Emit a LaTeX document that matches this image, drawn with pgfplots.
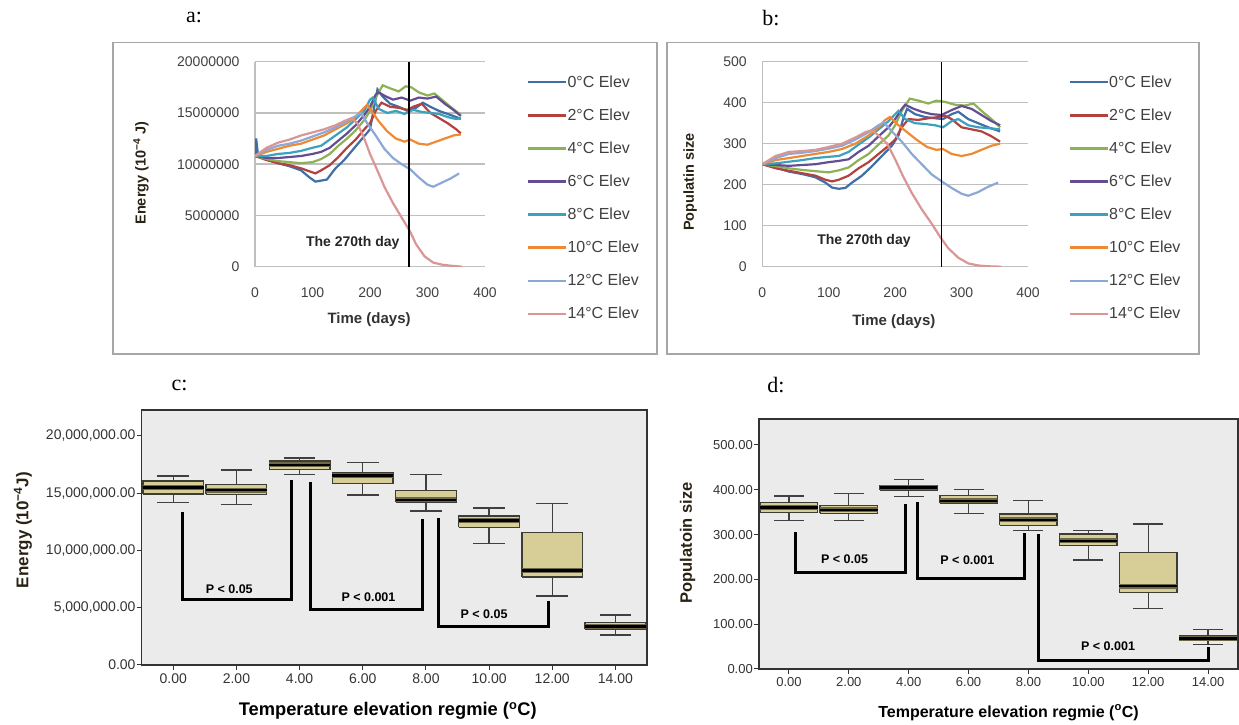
\documentclass[border=0pt]{standalone}
\usepackage{fontspec}
\setmainfont{Liberation Sans}
\newfontfamily\serifa{Liberation Serif}
\usepackage{pgfplots}
\pgfplotsset{compat=1.18}
\definecolor{cA}{HTML}{3F6FA6}
\definecolor{cB}{HTML}{B3413E}
\definecolor{cC}{HTML}{8DB255}
\definecolor{cD}{HTML}{654D94}
\definecolor{cE}{HTML}{3AA2BE}
\definecolor{cF}{HTML}{EE8A33}
\definecolor{cG}{HTML}{8CA8D6}
\definecolor{cH}{HTML}{D99694}
\definecolor{gridg}{HTML}{BFBFBF}
\definecolor{frameg}{HTML}{A6A6A6}
\definecolor{bggray}{HTML}{EBEBEB}
\definecolor{boxfill}{HTML}{D6CE96}
\definecolor{boxedge}{HTML}{3D3D33}
\definecolor{medol}{HTML}{6E6846}
\definecolor{labdark}{HTML}{2A2214}
\tikzset{plab/.style={font=\bfseries\fontsize{12.5}{12.5}\selectfont}}
% box-and-whisker from plain numbers: x, lower whisker, Q1, median, Q3, upper whisker
\newcommand\bxp[6]{%
  \pgfmathsetmacro\bL{#1-0.48}\pgfmathsetmacro\bR{#1+0.48}%
  \pgfmathsetmacro\cL{#1-0.25}\pgfmathsetmacro\cR{#1+0.25}%
  \edef\bxtmp{%
   \noexpand\addplot[wh] coordinates {(#1,#2)(#1,#3)};
   \noexpand\addplot[wh] coordinates {(#1,#5)(#1,#6)};
   \noexpand\addplot[wh] coordinates {(\cL,#2)(\cR,#2)};
   \noexpand\addplot[wh] coordinates {(\cL,#6)(\cR,#6)};
   \noexpand\addplot[bx] coordinates {(\bL,#3)(\bR,#3)(\bR,#5)(\bL,#5)(\bL,#3)};
   \noexpand\addplot[medo] coordinates {(\bL,#4)(\bR,#4)};
   \noexpand\addplot[medb] coordinates {(\bL,#4)(\bR,#4)};}%
  \bxtmp}
\pgfplotsset{
  /pgf/number format/assume math mode=true,
  lineaxis/.style={
    anchor=south west, scale only axis, height=205pt,
    xmin=0, xmax=400, ymin=0,
    xtick={0,100,200,300,400},
    scaled y ticks=false,
    axis lines*=left, axis line style={draw=gridg, line width=1.3pt},
    ymajorgrids, grid style={draw=gridg, line width=1.5pt},
    major tick length=0pt,
    tick label style={font=\fontsize{14}{14}\selectfont, text=black!75},
    xticklabel style={yshift=-17pt},
    yticklabel style={xshift=-12pt},
    x label style={font=\bfseries\fontsize{15}{15}\selectfont, text=black!80, anchor=center},
    y label style={font=\bfseries\fontsize{14.5}{14.5}\selectfont, text=labdark, anchor=center},
    legend cell align=left,
    legend style={draw=none, fill=none, anchor=west, inner sep=0pt, outer sep=0pt,
      font=\fontsize{16}{16}\selectfont, row sep=20pt, column sep=0pt,
      nodes={inner sep=0pt, text=black!75}},
    legend image code/.code={\draw[##1, line width=2.5pt] (0pt,0pt) -- (38pt,0pt);},
    every axis plot/.append style={line width=2.2pt},
  },
  boxaxis/.style={
    anchor=south west, scale only axis,
    xmin=-0.5, xmax=7.5, ymin=0,
    scaled y ticks=false,
    axis background/.style={fill=bggray},
    axis line style={draw=black!80, line width=1.5pt},
    xtick={0,1,2,3,4,5,6,7},
    xticklabels={0.00,2.00,4.00,6.00,8.00,10.00,12.00,14.00},
    tick align=outside, xtick pos=bottom, ytick pos=left,
    major tick length=5pt, tick style={draw=black!80, line width=1pt},
    yticklabel style={inner sep=1pt},
    x label style={font=\bfseries\fontsize{18.3}{18.3}\selectfont, anchor=center},
    y label style={font=\bfseries\fontsize{17}{17}\selectfont, text=labdark, anchor=center},
    wh/.style={draw=black!75, line width=1.3pt, mark=none},
    bx/.style={draw=boxedge, fill=boxfill, line width=1.4pt, mark=none},
    medo/.style={draw=medol, line width=5pt, mark=none},
    medb/.style={draw=black, line width=2.6pt, mark=none},
    br/.style={draw=black, line width=3pt, sharp plot, mark=none},
  },
}
\begin{document}
\begin{tikzpicture}[x=1pt,y=1pt]
\path[use as bounding box] (0,0) rectangle (1239,725);
\draw[draw=frameg, line width=1.3pt] (113,682.3) rectangle (657,371);
\draw[draw=frameg, line width=1.3pt] (667,682.3) rectangle (1199,371);
\node[font=\serifa\fontsize{22}{22}\selectfont] at (194,707) {a:};
\node[font=\serifa\fontsize{22}{22}\selectfont] at (771,707) {b:};
\node[font=\serifa\fontsize{22}{22}\selectfont] at (179.5,340) {c:};
\node[font=\serifa\fontsize{22}{22}\selectfont] at (776,340) {d:};

% ---------------- panel a ----------------
\begin{axis}[lineaxis, at={(255pt,458.3pt)}, width=230pt, ymax=20000000,
  ytick={0,5000000,10000000,15000000,20000000},
  yticklabels={0,5000000,10000000,15000000,20000000},
  xlabel={Time (days)}, x label style={at={(axis description cs:0.496,-0.26)}},
  ylabel={Energy (10\textsuperscript{−4} J)}, y label style={at={(axis description cs:-0.4957,0.457)}},
  legend style={at={(axis description cs:1.1826,0.335)}},
]
\addplot[cA] coordinates {(0,10.8e6)(2,12.5e6)(5,11.0e6)(20,10.5e6)(40,10.1e6)(60,9.8e6)(80,9.4e6)(95,8.7e6)(105,8.3e6)(115,8.4e6)(125,8.5e6)(140,9.6e6)(155,10.4e6)(170,11.4e6)(185,12.4e6)(200,13.4e6)(207,15.5e6)(213,17.3e6)(222,16.6e6)(235,15.9e6)(250,15.6e6)(265,15.2e6)(280,15.5e6)(292,16.0e6)(305,15.6e6)(320,15.2e6)(335,14.9e6)(350,14.6e6)(358,14.4e6)};
\addlegendentry{0°C Elev}
\addplot[cB] coordinates {(0,10.8e6)(20,10.4e6)(40,10.1e6)(60,9.9e6)(80,9.6e6)(95,9.3e6)(105,9.1e6)(115,9.4e6)(130,9.9e6)(145,10.7e6)(160,11.6e6)(175,12.4e6)(190,13.4e6)(200,14.0e6)(210,15.2e6)(220,16.0e6)(235,15.6e6)(250,15.5e6)(265,15.3e6)(275,15.6e6)(290,15.9e6)(305,15.0e6)(320,14.5e6)(335,14.0e6)(350,13.4e6)(358,13.0e6)};
\addlegendentry{2°C Elev}
\addplot[cC] coordinates {(0,10.8e6)(20,10.5e6)(40,10.3e6)(60,10.2e6)(80,10.1e6)(100,10.2e6)(115,10.5e6)(130,11.0e6)(145,11.8e6)(160,12.5e6)(175,13.3e6)(190,14.3e6)(200,15.2e6)(210,16.5e6)(222,17.7e6)(235,17.4e6)(250,17.1e6)(262,17.6e6)(272,17.5e6)(285,17.0e6)(300,16.7e6)(312,16.9e6)(325,16.3e6)(340,15.6e6)(358,14.8e6)};
\addlegendentry{4°C Elev}
\addplot[cD] coordinates {(0,10.8e6)(20,10.6e6)(40,10.6e6)(60,10.7e6)(80,10.8e6)(100,11.0e6)(115,11.2e6)(130,11.6e6)(145,12.3e6)(160,13.0e6)(175,13.8e6)(190,14.8e6)(200,15.6e6)(210,16.8e6)(215,17.0e6)(228,16.6e6)(240,16.3e6)(255,16.5e6)(270,16.2e6)(285,16.5e6)(300,16.4e6)(315,16.6e6)(330,15.9e6)(345,15.3e6)(358,14.7e6)};
\addlegendentry{6°C Elev}
\addplot[cE] coordinates {(0,10.8e6)(20,10.8e6)(40,11.0e6)(60,11.1e6)(80,11.3e6)(100,11.6e6)(115,11.8e6)(130,12.4e6)(145,13.0e6)(160,13.6e6)(175,14.4e6)(190,15.2e6)(200,16.3e6)(205,16.5e6)(215,15.4e6)(230,15.0e6)(245,15.2e6)(260,14.9e6)(275,15.3e6)(290,15.1e6)(305,15.0e6)(320,14.9e6)(335,14.6e6)(350,14.4e6)(358,14.5e6)};
\addlegendentry{8°C Elev}
\addplot[cF] coordinates {(0,10.8e6)(20,11.2e6)(40,11.5e6)(60,11.8e6)(80,12.0e6)(100,12.4e6)(120,12.8e6)(140,13.4e6)(160,14.0e6)(175,14.6e6)(188,15.4e6)(195,15.8e6)(205,15.0e6)(215,14.2e6)(230,13.2e6)(245,12.5e6)(260,12.2e6)(270,12.4e6)(285,12.0e6)(300,11.9e6)(315,12.2e6)(330,12.5e6)(345,12.8e6)(358,12.9e6)};
\addlegendentry{10°C Elev}
\addplot[cG] coordinates {(0,10.8e6)(20,11.4e6)(40,11.8e6)(60,12.0e6)(80,12.3e6)(100,12.7e6)(120,13.1e6)(140,13.6e6)(160,14.2e6)(175,14.7e6)(185,15.0e6)(195,14.0e6)(210,12.8e6)(225,11.5e6)(240,10.6e6)(255,10.0e6)(270,9.5e6)(285,8.7e6)(300,8.0e6)(310,7.8e6)(325,8.2e6)(340,8.6e6)(355,9.1e6)};
\addlegendentry{12°C Elev}
\addplot[cH] coordinates {(0,10.8e6)(20,11.6e6)(40,12.1e6)(60,12.4e6)(80,12.8e6)(100,13.1e6)(120,13.4e6)(140,13.8e6)(155,14.2e6)(168,14.5e6)(178,14.0e6)(190,12.5e6)(200,11.0e6)(212,9.5e6)(225,7.8e6)(240,6.2e6)(255,4.8e6)(270,3.4e6)(280,2.2e6)(295,1.0e6)(310,0.4e6)(325,0.2e6)(340,0.1e6)(360,0)};
\addlegendentry{14°C Elev}
\addplot[black, line width=1.5pt, forget plot] coordinates {(268,0)(268,20000000)};
\node[font=\bfseries\fontsize{14}{14}\selectfont, text=black!85] at (axis cs:170,2.31e6) {The 270th day};
\end{axis}

% ---------------- panel b ----------------
\begin{axis}[lineaxis, at={(762.3pt,458.3pt)}, width=265.7pt, ymax=500,
  ytick={0,100,200,300,400,500},
  xlabel={Time (days)}, x label style={at={(axis description cs:0.495,-0.27)}},
  ylabel={Populatin size}, y label style={at={(axis description cs:-0.272,0.413)}},
  legend style={at={(axis description cs:1.153,0.335)}},
]
\addplot[cA] coordinates {(0,250)(20,242)(40,232)(60,226)(80,218)(95,205)(105,193)(115,190)(125,192)(135,205)(150,222)(165,245)(180,270)(195,295)(205,320)(212,360)(218,385)(230,372)(245,365)(260,362)(272,360)(285,372)(295,378)(310,360)(325,350)(340,340)(358,330)};
\addlegendentry{0°C Elev}
\addplot[cB] coordinates {(0,250)(20,240)(40,234)(60,228)(80,222)(95,212)(105,208)(115,212)(130,222)(145,240)(160,255)(175,275)(190,295)(200,310)(210,340)(220,360)(235,358)(250,362)(265,365)(275,368)(285,360)(300,340)(315,335)(330,330)(345,318)(358,305)};
\addlegendentry{2°C Elev}
\addplot[cC] coordinates {(0,250)(20,245)(40,240)(60,236)(80,233)(100,230)(115,235)(130,242)(145,260)(160,275)(175,298)(190,320)(200,345)(210,380)(222,410)(235,405)(250,398)(262,405)(275,402)(290,395)(305,393)(318,398)(330,380)(345,360)(358,340)};
\addlegendentry{4°C Elev}
\addplot[cD] coordinates {(0,250)(20,248)(40,246)(60,248)(80,250)(100,255)(115,258)(130,262)(145,280)(160,295)(175,318)(190,340)(200,360)(210,385)(215,395)(228,385)(240,378)(255,372)(270,370)(285,382)(300,392)(315,385)(330,370)(345,355)(358,345)};
\addlegendentry{6°C Elev}
\addplot[cE] coordinates {(0,250)(20,252)(40,256)(60,260)(80,265)(100,268)(115,270)(130,280)(145,298)(160,315)(175,335)(190,355)(200,372)(205,380)(215,360)(230,350)(245,348)(260,345)(272,340)(285,355)(295,360)(310,345)(325,340)(340,338)(358,335)};
\addlegendentry{8°C Elev}
\addplot[cF] coordinates {(0,250)(20,260)(40,265)(60,270)(80,275)(100,280)(120,287)(140,300)(160,320)(175,340)(185,358)(192,365)(205,345)(218,328)(232,310)(248,292)(262,285)(272,287)(285,275)(300,270)(315,275)(330,285)(345,295)(358,300)};
\addlegendentry{10°C Elev}
\addplot[cG] coordinates {(0,250)(20,265)(40,275)(60,278)(80,282)(100,288)(120,295)(140,310)(160,328)(175,345)(183,352)(195,330)(210,305)(225,275)(240,250)(255,225)(270,208)(285,192)(300,178)(310,173)(325,182)(340,195)(355,205)};
\addlegendentry{12°C Elev}
\addplot[cH] coordinates {(0,250)(20,270)(40,280)(60,282)(80,285)(100,292)(120,300)(140,315)(155,328)(165,333)(175,320)(188,300)(200,262)(212,220)(225,180)(240,140)(255,105)(268,72)(280,45)(295,22)(310,8)(325,3)(340,1)(360,0)};
\addlegendentry{14°C Elev}
\addplot[black, line width=1.5pt, forget plot] coordinates {(270,0)(270,500)};
\node[font=\bfseries\fontsize{14}{14}\selectfont, text=black!85] at (axis cs:153,62) {The 270th day};
\end{axis}

% ---------------- panel c ----------------
\begin{axis}[boxaxis, at={(141.7pt,60pt)}, width=505.3pt, height=255pt, ymax=22270000,
  ytick={0,5000000,10000000,15000000,20000000},
  yticklabels={0.00,{5,000,000.00},{10,000,000.00},{15,000,000.00},{20,000,000.00}},
  tick label style={font=\fontsize{14}{14}\selectfont, text=black!80},
  xlabel={Temperature elevation regmie (\textsuperscript{o}C)},
  x label style={at={(axis description cs:0.487,-0.18)}},
  ylabel={Energy (10\textsuperscript{−4}J)},
  y label style={at={(axis description cs:-0.2349,0.529)}},
]
\bxp{0}{14.2e6}{14.93e6}{15.52e6}{16.07e6}{16.5e6}
\bxp{1}{14.0e6}{14.9e6}{15.28e6}{15.78e6}{17.03e6}
\bxp{2}{16.65e6}{17.09e6}{17.47e6}{17.82e6}{18.08e6}
\bxp{3}{14.85e6}{15.87e6}{16.56e6}{16.77e6}{17.67e6}
\bxp{4}{13.45e6}{14.2e6}{14.41e6}{15.23e6}{16.65e6}
\bxp{5}{10.6e6}{12.02e6}{12.63e6}{13.01e6}{13.71e6}
\bxp{6}{6.03e6}{7.69e6}{8.27e6}{11.56e6}{14.12e6}
\bxp{7}{2.62e6}{3.14e6}{3.38e6}{3.73e6}{4.37e6}
\addplot[br] coordinates {(0.15,13.4e6)(0.15,5.68e6)(1.87,5.68e6)(1.87,16.16e6)};
\addplot[br] coordinates {(2.18,15.95e6)(2.18,4.86e6)(3.94,4.86e6)(3.94,12.75e6)};
\addplot[br] coordinates {(4.2,12.8e6)(4.2,3.35e6)(5.94,3.35e6)(5.94,5.62e6)};
\node[plab] at (axis cs:0.886,6.64e6) {P < 0.05};
\node[plab] at (axis cs:3.09,5.88e6) {P < 0.001};
\node[plab] at (axis cs:4.92,4.42e6) {P < 0.05};
\end{axis}

% ---------------- panel d ----------------
\begin{axis}[boxaxis, at={(759pt,56pt)}, width=479pt, height=250pt, ymax=558,
  ytick={0,100,200,300,400,500},
  yticklabels={0.00,100.00,200.00,300.00,400.00,500.00},
  tick label style={font=\fontsize{13}{13}\selectfont, text=black!80},
  xlabel={Temperature elevation regmie (\textsuperscript{o}C)},
  x label style={at={(axis description cs:0.521,-0.175)}, font=\bfseries\fontsize{16}{16}\selectfont},
  ylabel={Populatoin size},
  y label style={at={(axis description cs:-0.149,0.504)}, font=\bfseries\fontsize{16.5}{16.5}\selectfont},
]
\bxp{0}{331}{349}{361}{371}{386}
\bxp{1}{331}{347.4}{355}{364.6}{392}
\bxp{2}{385}{399.5}{405}{409}{423}
\bxp{3}{347}{370}{375}{387}{401}
\bxp{4}{309}{320.7}{332.6}{346}{376}
\bxp{5}{243}{275}{285.7}{301}{309.5}
\bxp{6}{135.4}{171}{185}{259.7}{323.6}
\bxp{7}{54.3}{63.2}{67.7}{74.4}{88.5}
\addplot[br] coordinates {(0.11,305)(0.11,215.8)(1.95,215.8)(1.95,367.5)};
\addplot[br] coordinates {(2.15,372)(2.15,202.4)(3.94,202.4)(3.94,302.8)};
\addplot[br] coordinates {(4.16,301)(4.16,20)(7.0,20)(7.0,48.4)};
\node[plab] at (axis cs:0.93,245.5) {P < 0.05};
\node[plab] at (axis cs:2.98,241.8) {P < 0.001};
\node[plab] at (axis cs:5.33,52) {P < 0.001};
\end{axis}
\end{tikzpicture}
\end{document}
